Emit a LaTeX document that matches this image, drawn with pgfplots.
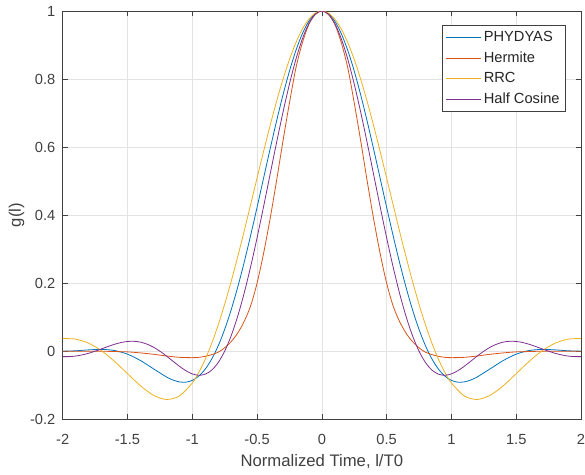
\documentclass[border=0pt]{standalone}
\usepackage{fontspec}
\setmainfont{Liberation Sans}
\usepackage{pgfplots}
\usepackage{pgfplotstable}
\pgfplotsset{compat=1.18}

\definecolor{mblue}{HTML}{0072BD}
\definecolor{mred}{HTML}{D95319}
\definecolor{myellow}{HTML}{EDB120}
\definecolor{mpurple}{HTML}{7E2F8E}
\definecolor{axgray}{HTML}{404040}

% PHYDYAS prototype (K=4)
\pgfplotstableread{
x y
-2.0 0.0
-1.9 0.0012
-1.8 0.0039
-1.7 0.0053
-1.6 0.0020
-1.5 -0.0087
-1.4 -0.0274
-1.3 -0.0516
-1.2 -0.0755
-1.15 -0.0846
-1.1 -0.0902
-1.05 -0.0910
-1.0 -0.0858
-0.95 -0.0733
-0.9 -0.0527
-0.85 -0.0231
-0.8 0.0158
-0.75 0.0641
-0.7 0.1215
-0.65 0.1874
-0.6 0.2606
-0.55 0.3397
-0.5 0.4229
-0.45 0.5082
-0.4 0.5932
-0.35 0.6757
-0.3 0.7532
-0.25 0.8234
-0.2 0.8842
-0.15 0.9336
-0.1 0.9701
-0.05 0.9925
0 1.0
0.05 0.9925
0.1 0.9701
0.15 0.9336
0.2 0.8842
0.25 0.8234
0.3 0.7532
0.35 0.6757
0.4 0.5932
0.45 0.5082
0.5 0.4229
0.55 0.3397
0.6 0.2606
0.65 0.1874
0.7 0.1215
0.75 0.0641
0.8 0.0158
0.85 -0.0231
0.9 -0.0527
0.95 -0.0733
1.0 -0.0858
1.05 -0.0910
1.1 -0.0902
1.15 -0.0846
1.2 -0.0755
1.3 -0.0516
1.4 -0.0274
1.5 -0.0087
1.6 0.0020
1.7 0.0053
1.8 0.0039
1.9 0.0012
2.0 0.0
}\phydyas

% Hermite
\pgfplotstableread{
x y
-2.0 0.0
-1.9 0.0
-1.8 0.0
-1.7 0.0
-1.6 -0.001
-1.5 -0.002
-1.4 -0.005
-1.3 -0.009
-1.2 -0.014
-1.1 -0.018
-1.0 -0.019
-0.95 -0.018
-0.9 -0.015
-0.85 -0.010
-0.8 -0.003
-0.75 0.010
-0.7 0.028
-0.65 0.053
-0.6 0.087
-0.55 0.133
-0.5 0.200
-0.45 0.287
-0.4 0.388
-0.35 0.500
-0.3 0.618
-0.25 0.730
-0.2 0.833
-0.15 0.907
-0.1 0.961
-0.05 0.990
0 1.0
0.05 0.990
0.1 0.961
0.15 0.907
0.2 0.833
0.25 0.730
0.3 0.618
0.35 0.500
0.4 0.388
0.45 0.287
0.5 0.200
0.55 0.133
0.6 0.087
0.65 0.053
0.7 0.028
0.75 0.010
0.8 -0.003
0.85 -0.010
0.9 -0.015
0.95 -0.018
1.0 -0.019
1.1 -0.018
1.2 -0.014
1.3 -0.009
1.4 -0.005
1.5 -0.002
1.6 -0.001
1.7 0.0
1.8 0.0
1.9 0.0
2.0 0.0
}\hermite

% RRC
\pgfplotstableread{
x y
-2.0 0.0373
-1.9 0.0354
-1.8 0.0235
-1.7 0.0012
-1.6 -0.0299
-1.5 -0.0660
-1.4 -0.1015
-1.3 -0.1294
-1.2 -0.1418
-1.1 -0.1317
-1.0 -0.0934
-0.95 -0.0625
-0.9 -0.0237
-0.85 0.0230
-0.8 0.0771
-0.75 0.1380
-0.7 0.2049
-0.65 0.2768
-0.6 0.3525
-0.55 0.4304
-0.5 0.5091
-0.45 0.5870
-0.4 0.6623
-0.35 0.7336
-0.3 0.7991
-0.25 0.8574
-0.2 0.9071
-0.15 0.9470
-0.1 0.9762
-0.05 0.9940
0 1.0
0.05 0.9940
0.1 0.9762
0.15 0.9470
0.2 0.9071
0.25 0.8574
0.3 0.7991
0.35 0.7336
0.4 0.6623
0.45 0.5870
0.5 0.5091
0.55 0.4304
0.6 0.3525
0.65 0.2768
0.7 0.2049
0.75 0.1380
0.8 0.0771
0.85 0.0230
0.9 -0.0237
0.95 -0.0625
1.0 -0.0934
1.1 -0.1317
1.2 -0.1418
1.3 -0.1294
1.4 -0.1015
1.5 -0.0660
1.6 -0.0299
1.7 0.0012
1.8 0.0235
1.9 0.0354
2.0 0.0373
}\rrc

% Half cosine
\pgfplotstableread{
x y
-2.0 -0.0159
-1.95 -0.0159
-1.9 -0.0143
-1.85 -0.0109
-1.8 -0.0061
-1.75 0.0
-1.7 0.0068
-1.65 0.0138
-1.6 0.0203
-1.55 0.0254
-1.5 0.0286
-1.45 0.0291
-1.4 0.0267
-1.35 0.0209
-1.3 0.0119
-1.25 0.0
-1.2 -0.0140
-1.15 -0.0292
-1.1 -0.0441
-1.05 -0.0572
-1.0 -0.0667
-0.95 -0.0708
-0.9 -0.0676
-0.85 -0.0557
-0.8 -0.0334
-0.75 0.0
-0.7 0.0452
-0.65 0.1021
-0.6 0.1700
-0.55 0.2477
-0.5 0.3333
-0.45 0.4246
-0.4 0.5186
-0.35 0.6123
-0.3 0.7023
-0.25 0.7854
-0.2 0.8584
-0.15 0.9184
-0.1 0.9631
-0.05 0.9907
0 1.0
0.05 0.9907
0.1 0.9631
0.15 0.9184
0.2 0.8584
0.25 0.7854
0.3 0.7023
0.35 0.6123
0.4 0.5186
0.45 0.4246
0.5 0.3333
0.55 0.2477
0.6 0.1700
0.65 0.1021
0.7 0.0452
0.75 0.0
0.8 -0.0334
0.85 -0.0557
0.9 -0.0676
0.95 -0.0708
1.0 -0.0667
1.05 -0.0572
1.1 -0.0441
1.15 -0.0292
1.2 -0.0140
1.25 0.0
1.3 0.0119
1.35 0.0209
1.4 0.0267
1.45 0.0291
1.5 0.0286
1.55 0.0254
1.6 0.0203
1.65 0.0138
1.7 0.0068
1.75 0.0
1.8 -0.0061
1.85 -0.0109
1.9 -0.0143
1.95 -0.0159
2.0 -0.0159
}\halfcos

\begin{document}
\begin{tikzpicture}
  \begin{axis}[
    scale only axis,
    width=388.5pt,
    height=306pt,
    xmin=-2, xmax=2,
    ymin=-0.2, ymax=1,
    xtick={-2,-1.5,-1,-0.5,0,0.5,1,1.5,2},
    xticklabels={-2,-1.5,-1,-0.5,0,0.5,1,1.5,2},
    ytick={-0.2,0,0.2,0.4,0.6,0.8,1},
    yticklabels={-0.2,0,0.2,0.4,0.6,0.8,1},
    tick align=inside,
    major tick length=3.8pt,
    tick style={axgray, line width=0.5pt},
    axis line style={axgray, line width=0.6pt},
    grid=major,
    major grid style={draw=black!11, line width=0.5pt},
    ticklabel style={font=\fontsize{11}{13}\selectfont, text=axgray},
    xticklabel style={yshift=-8pt},
    yticklabel style={xshift=-2pt},
    label style={font=\fontsize{12.5}{14}\selectfont, text=axgray},
    xlabel={Normalized Time, l/T0},
    ylabel={g(l)},
    xlabel style={at={(axis description cs:0.5,-0.103)}, anchor=center},
    ylabel style={at={(axis description cs:-0.089,0.5)}, anchor=center},
    legend style={at={(axis description cs:0.971,0.965)}, anchor=north east,
      draw=axgray, fill=white, line width=0.5pt,
      font=\fontsize{11}{13}\selectfont, text=black!85,
      row sep=2pt, inner xsep=2.5pt, inner ysep=2.5pt},
    legend cell align=left,
    legend image code/.code={\draw[#1] (0pt,0pt) -- (26pt,0pt);},
    every axis plot/.append style={line width=0.6pt},
  ]
    \addplot[mblue, smooth] table[x=x, y=y] {\phydyas};
    \addlegendentry{PHYDYAS}
    \addplot[mred, smooth] table[x=x, y=y] {\hermite};
    \addlegendentry{Hermite}
    \addplot[myellow, smooth] table[x=x, y=y] {\rrc};
    \addlegendentry{RRC}
    \addplot[mpurple, smooth] table[x=x, y=y] {\halfcos};
    \addlegendentry{Half Cosine}
  \end{axis}
  \pgfresetboundingbox
  \path[use as bounding box] ([xshift=-47pt,yshift=-41.5pt]current axis.south west)
    rectangle ([xshift=3pt,yshift=8.25pt]current axis.north east);
\end{tikzpicture}
\end{document}
